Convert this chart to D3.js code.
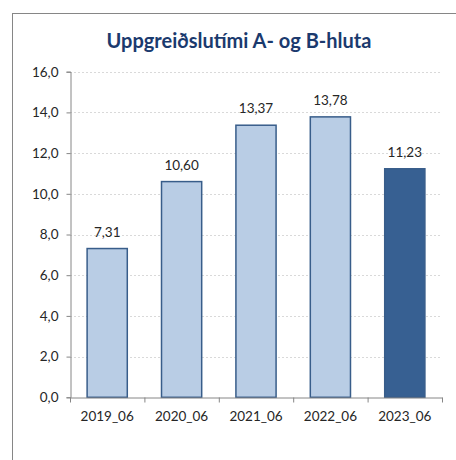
<!DOCTYPE html>
<html>
<head>
<meta charset="utf-8">
<script src="https://cdn.jsdelivr.net/npm/d3@7"></script>
<style>
  body { margin: 0; background: #fff; }
  text { font-family: Lato, "Open Sans", sans-serif; }
</style>
</head>
<body>
<svg id="chart"></svg>
<script>
const categories = ["2019_06", "2020_06", "2021_06", "2022_06", "2023_06"];
const values = [7.31, 10.60, 13.37, 13.78, 11.23];
const yTicks = [0, 2, 4, 6, 8, 10, 12, 14, 16];
const title = "Uppgreiðslutími A- og B-hluta";

const W = 456, H = 460;
const plot = { left: 70, right: 442, top: 71.7, bottom: 397.3 };
const fmt = v => d3.format(".1f")(v).replace(".", ",");
const fmt2 = v => d3.format(".2f")(v).replace(".", ",");

const svg = d3.select("#chart")
  .attr("width", W)
  .attr("height", H);

// outer chart frame
svg.append("rect")
  .attr("x", 12.5).attr("y", 13.5)
  .attr("width", 470).attr("height", 470)
  .attr("fill", "#fff")
  .attr("stroke", "#868686")
  .attr("stroke-width", 1);

const x = d3.scaleBand()
  .domain(categories)
  .range([plot.left, plot.right])
  .paddingInner(0.46)
  .paddingOuter(0.23);

const y = d3.scaleLinear()
  .domain([0, 16])
  .range([plot.bottom, plot.top]);

// gridlines
svg.append("g")
  .selectAll("line")
  .data(yTicks.filter(d => d > 0))
  .enter().append("line")
  .attr("x1", plot.left).attr("x2", plot.right)
  .attr("y1", d => Math.round(y(d)) + 0.5)
  .attr("y2", d => Math.round(y(d)) + 0.5)
  .attr("stroke", "#d9d9d9")
  .attr("stroke-dasharray", "2,2");

// bars
svg.append("g")
  .selectAll("rect")
  .data(values)
  .enter().append("rect")
  .attr("x", (d, i) => x(categories[i]))
  .attr("y", d => y(d))
  .attr("width", x.bandwidth())
  .attr("height", d => y(0) - y(d))
  .attr("fill", (d, i) => i === values.length - 1 ? "#376092" : "#b9cde5")
  .attr("stroke", "#385d8a")
  .attr("stroke-width", 1.5);

// value labels
svg.append("g")
  .selectAll("text")
  .data(values)
  .enter().append("text")
  .attr("x", (d, i) => x(categories[i]) + x.bandwidth() / 2)
  .attr("y", d => y(d) - 12)
  .attr("text-anchor", "middle")
  .attr("font-size", 13.5)
  .attr("fill", "#262626")
  .text(fmt2);

// y axis
const yAxis = d3.axisLeft(y)
  .tickValues(yTicks)
  .tickFormat(fmt)
  .tickSize(4)
  .tickPadding(8);

const gy = svg.append("g")
  .attr("transform", `translate(${plot.left + 0.5},0)`)
  .call(yAxis);

// x axis
const xAxis = d3.axisBottom(x)
  .tickSize(0)
  .tickPadding(14);

const gx = svg.append("g")
  .attr("transform", `translate(0,${Math.round(plot.bottom) + 0.5})`)
  .call(xAxis);

// tick marks on band boundaries
gx.selectAll(".boundary")
  .data(d3.range(categories.length + 1))
  .enter().append("line")
  .attr("class", "boundary")
  .attr("x1", i => plot.left + i * x.step() + 0.5)
  .attr("x2", i => plot.left + i * x.step() + 0.5)
  .attr("y1", 0).attr("y2", 5)
  .attr("stroke", "#868686");

[gx, gy].forEach(g => {
  g.select(".domain").attr("stroke", "#868686");
  g.selectAll(".tick line").attr("stroke", "#868686");
  g.selectAll("text")
    .attr("font-size", 13.5)
    .attr("font-family", "Lato, 'Open Sans', sans-serif")
    .attr("fill", "#262626");
});

// title
svg.append("text")
  .attr("x", 239)
  .attr("y", 48)
  .attr("text-anchor", "middle")
  .attr("font-size", 20)
  .attr("font-weight", "bold")
  .attr("fill", "#1b3a6e")
  .text(title);
</script>
</body>
</html>
